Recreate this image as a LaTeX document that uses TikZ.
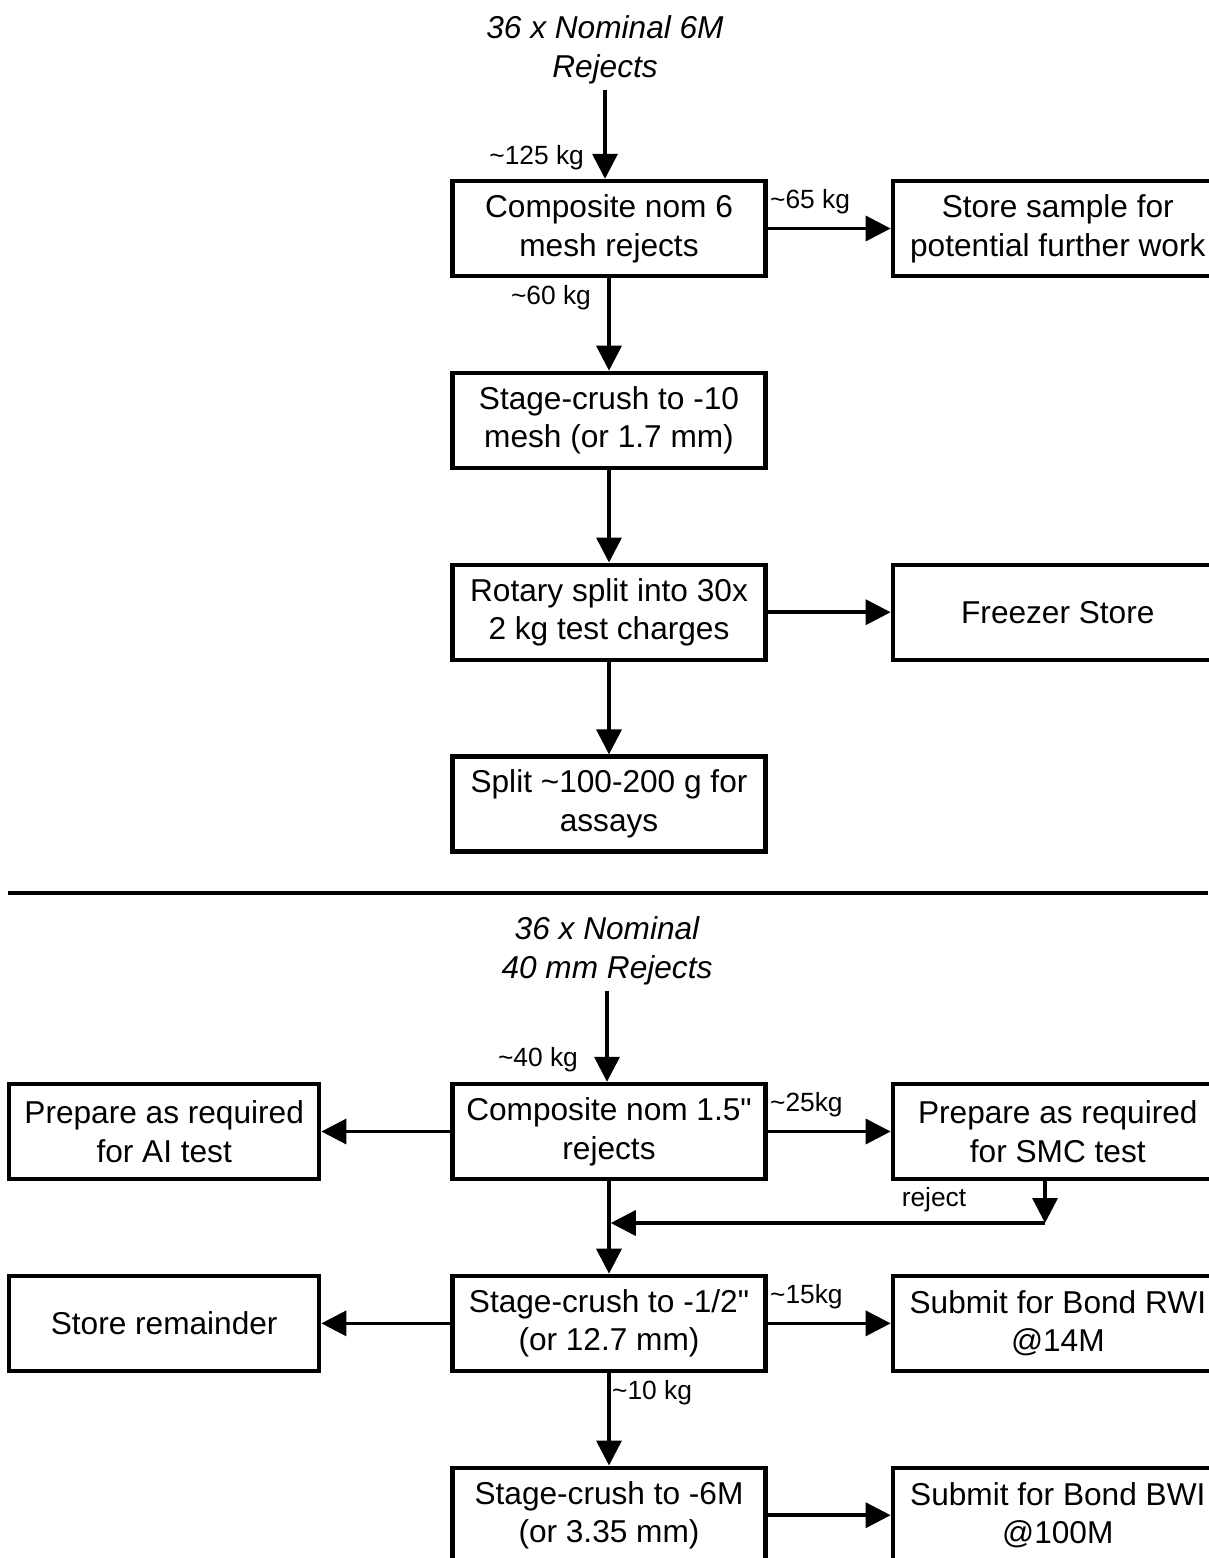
\documentclass[tikz,border=0pt]{standalone}
\usepackage{fontspec}
\setmainfont{Liberation Sans}[Ligatures=TeXOff]
\usetikzlibrary{arrows.meta,positioning}

\tikzset{
  box/.style={draw, line width=2.5pt, minimum width=6.26cm, minimum height=1.9cm,
    align=center, font=\fontsize{18}{22}\selectfont},
  sidebox/.style={box, minimum width=6.6cm},
  leftbox/.style={box, minimum width=6.2cm},
  src/.style={align=center, font=\fontsize{18}{22}\selectfont\itshape},
  wt/.style={font=\fontsize{15}{18}\selectfont, inner sep=1pt},
  flow/.style={line width=2pt, -{Triangle[length=0.5cm,width=0.5cm]}},
}

\begin{document}
\begin{tikzpicture}[x=0.02cm, y=-0.02cm, node distance=1.85cm and 2.46cm]
	\useasboundingbox (0,0) rectangle (1208,1558);
	% 6 mesh rejects
	\node[src] (src1) at (605,50) {36 x Nominal 6M\\Rejects};
	\node[box] (comp6) at (609,228.5) {Composite nom 6\\mesh rejects};
	\node[sidebox, right=of comp6] (store) {Store sample for\\potential further work};
	\node[box, below=of comp6] (crush10) {Stage-crush to -10\\mesh (or 1.7 mm)};
	\node[box, below=of crush10] (rotary) {Rotary split into 30x\\2 kg test charges};
	\node[sidebox, right=of rotary] (freezer) {Freezer Store};
	\node[box, below=of rotary] (assay) {Split \textasciitilde100-200 g for\\assays};
	\draw[flow] (src1.south) -- (src1.south |- comp6.north);
	\foreach \from/\to in {comp6/store,comp6/crush10,crush10/rotary,rotary/freezer,rotary/assay}
		\draw[flow] (\from) -- (\to);
	\node[wt, anchor=east] (w125) at (586,158) {\textasciitilde125 kg};
	\node[wt, anchor=west] (w65) at (768,202) {\textasciitilde65 kg};
	\node[wt, anchor=east] (w60) at (593,298) {\textasciitilde60 kg};

	\coordinate (cutL) at (8,893);
	\coordinate (cutR) at (1208,893);
	\draw[line width=2pt] (cutL) -- (cutR);

	% 40 mm rejects
	\node[src] (src2) at (607,951) {36 x Nominal\\40 mm Rejects};
	\node[box] (comp15) at (609,1131.5) {Composite nom 1.5"\\rejects};
	\node[leftbox, left=2.58cm of comp15] (ai) {Prepare as required\\for AI test};
	\node[sidebox, right=of comp15] (smc) {Prepare as required\\for SMC test};
	\node[box, below=of comp15] (crushhalf) {Stage-crush to -1/2"\\(or 12.7 mm)};
	\node[leftbox, left=2.58cm of crushhalf] (remain) {Store remainder};
	\node[sidebox, right=of crushhalf] (rwi) {Submit for Bond RWI\\@14M};
	\node[box, below=of crushhalf] (crush6) {Stage-crush to -6M\\(or 3.35 mm)};
	\node[sidebox, right=of crush6] (bwi) {Submit for Bond BWI\\@100M};
	\draw[flow] (src2.south) -- (src2.south |- comp15.north);
	\foreach \from/\to in {comp15/ai,comp15/smc,comp15/crushhalf,crushhalf/remain,crushhalf/rwi,crushhalf/crush6,crush6/bwi}
		\draw[flow] (\from) -- (\to);
	\coordinate (rj) at (1045,1223);
	\draw[flow] (smc.south -| rj) -- (rj);
	\draw[flow, shorten >=1pt] (rj) -- (rj -| comp15);
	\node[wt, anchor=east] (w40) at (580,1060) {\textasciitilde40 kg};
	\node[wt, anchor=west] (w25) at (768,1105) {\textasciitilde25kg};
	\node[wt] (rejlbl) at (934,1200) {reject};
	\node[wt, anchor=west] (w15) at (768,1297) {\textasciitilde15kg};
	\node[wt, anchor=west] (w10) at (610,1393) {\textasciitilde10 kg};
\end{tikzpicture}
\end{document}
